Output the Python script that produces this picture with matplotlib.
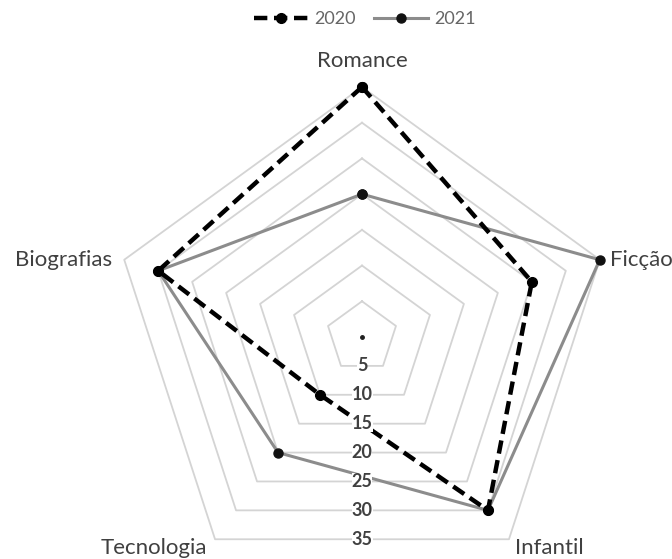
import numpy as np
import matplotlib.pyplot as plt

# dados
categorias = ['Romance', 'Ficção', 'Infantil', 'Tecnologia', 'Biografias']
vendas_2020 = [35, 25, 30, 10, 30]
vendas_2021 = [20, 35, 30, 20, 30]
niveis = [5, 10, 15, 20, 25, 30, 35]

plt.rcParams['font.family'] = ['Lato', 'DejaVu Sans']

angulos = np.linspace(0, 2 * np.pi, len(categorias), endpoint=False)
ang_fech = np.append(angulos, angulos[0])

fig = plt.figure(figsize=(6.72, 5.59), dpi=100)
# centro em (362, 337) px, raio 250 px
ax = fig.add_axes([112 / 672, (222 - 250) / 559, 500 / 672, 500 / 559], projection='polar')
ax.set_theta_zero_location('N')
ax.set_theta_direction(-1)
ax.set_ylim(0, niveis[-1])
ax.grid(False)
ax.set_xticks([])
ax.set_yticks([])
ax.spines['polar'].set_visible(False)
ax.patch.set_visible(False)

# grade em pentagonos
for v in niveis:
    ax.plot(ang_fech, [v] * len(ang_fech), color='#d4d4d4', lw=1.3, clip_on=False, zorder=1)

# rotulos do eixo (na base de cada pentagono)
base = np.cos(np.pi / len(categorias))
for v in niveis:
    ax.text(np.pi, v * base, str(v), ha='center', va='center', fontsize=13,
            fontweight='bold', color='#404040', zorder=6,
            bbox=dict(boxstyle='square,pad=0.0', fc='white', ec='none'))
ax.plot([0], [0], marker='o', ms=2.5, color='#202020', zorder=3)

# series
ax.plot(ang_fech, vendas_2021 + vendas_2021[:1], color='#8c8c8c', lw=2.2,
        marker='o', ms=6.5, mfc='#111111', mec='#111111', clip_on=False, zorder=4, label='2021')
ax.plot(ang_fech, vendas_2020 + vendas_2020[:1], color='black', lw=3.2,
        linestyle=(0, (3, 1.5)), marker='o', ms=7, clip_on=False, zorder=5, label='2020')

# rotulos das categorias
desloc = {'Romance': (0, 26, 'center', 'center'),
          'Ficção': (10, 0, 'left', 'center'),
          'Infantil': (40, -9, 'center', 'center'),
          'Tecnologia': (-61, -9, 'center', 'center'),
          'Biografias': (-12, 0, 'right', 'center')}
for a, cat in zip(angulos, categorias):
    dx, dy, ha, va = desloc[cat]
    ax.annotate(cat, (a, niveis[-1]), xytext=(dx, dy), textcoords='offset pixels',
                ha=ha, va=va, fontsize=16, color='#404040', annotation_clip=False)

h, l = ax.get_legend_handles_labels()
fig.legend(h[::-1], l[::-1], loc='center', bbox_to_anchor=(365 / 672, 1 - 19 / 559), ncol=2,
           frameon=False, fontsize=13, handlelength=3.0, handletextpad=0.35,
           columnspacing=1.0, labelcolor='#666666', borderpad=0)

fig.savefig('out.png', dpi=100)
